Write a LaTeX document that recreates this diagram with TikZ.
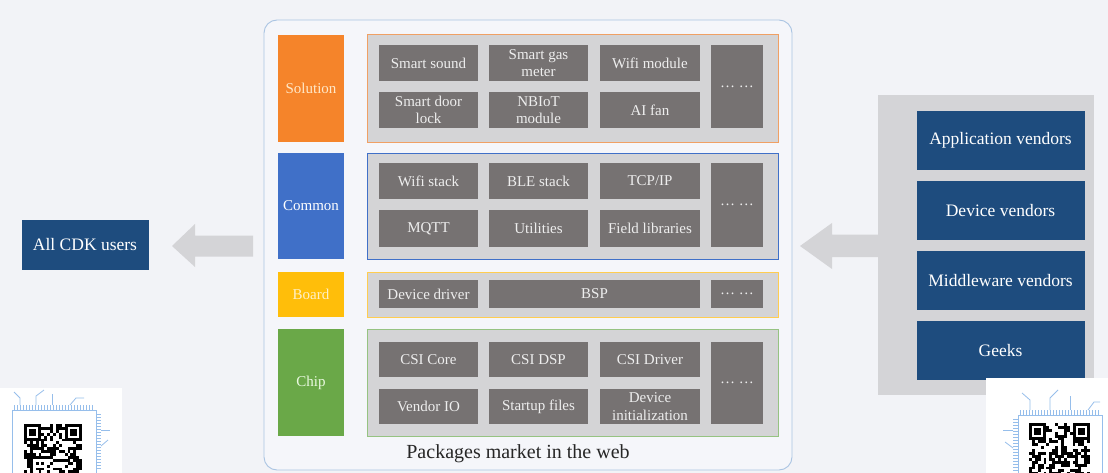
\documentclass[tikz,border=0pt]{standalone}
\usepackage{fontspec}
\setmainfont{Liberation Serif}
\definecolor{bg}{RGB}{242,243,247}
\definecolor{outerfill}{RGB}{245,246,250}
\definecolor{outerline}{RGB}{170,196,226}
\definecolor{orng}{RGB}{245,132,42}
\definecolor{blu}{RGB}{64,112,200}
\definecolor{yel}{RGB}{255,190,10}
\definecolor{grn}{RGB}{106,168,72}
\definecolor{grnline}{RGB}{150,195,130}
\definecolor{contgray}{RGB}{212,212,214}
\definecolor{itemgray}{RGB}{118,114,114}
\definecolor{itemtxt}{RGB}{238,238,238}
\definecolor{navy}{RGB}{30,76,126}
\definecolor{arrgray}{RGB}{212,212,215}
\definecolor{chipblue}{RGB}{150,190,235}
\tikzset{
  lab/.style={minimum width=66pt, inner sep=0pt, font=\fontsize{15}{17}\selectfont},
  content/.style={fill=contgray, line width=0.9pt, minimum width=411pt, inner sep=0pt},
  item/.style={fill=itemgray, text=itemtxt, inner sep=0pt, align=center,
    font=\fontsize{15}{17.5}\selectfont},
  navybox/.style={fill=navy, text=white, inner sep=0pt, minimum width=168pt,
    minimum height=59pt, font=\fontsize{17.5}{20}\selectfont},
  blockarrow/.style={fill=arrgray, draw=none}
}
\newcommand{\qrpatch}[5]{% x0 y0 cols rows seed
  \pgfmathsetseed{#5}
  \foreach \i in {1,...,#3}{
    \foreach \j in {1,...,#4}{
      \pgfmathrandominteger{\r}{0}{1}
      \ifnum\r=1
        \fill[black] ({#1+(\i-1)*2.9},{#2+(\j-1)*2.9}) rectangle ++(2.9,2.9);
      \fi
    }
  }
}
\begin{document}
\begin{tikzpicture}[x=1pt,y=-1pt]
\fill[bg] (0,0) rectangle (1108,473);
\useasboundingbox (0,0) rectangle (1108,473);

% outer box
\node[draw=outerline, fill=outerfill, line width=0.9pt, rounded corners=13pt,
  minimum width=528pt, minimum height=450pt, inner sep=0pt] (outer) at (528,245) {};
\node[font=\fontsize{20}{24}\selectfont, text=black!85] (market) at (518,454) {Packages market in the web};

% left labels
\node[lab, fill=orng, text={rgb,255:red,255;green,232;blue,200}, minimum height=107pt] (sol) at (311,88.5) {Solution};
\node[lab, fill=blu, text=white, minimum height=106pt] (com) at (311,206) {Common};
\node[lab, fill=yel, text={rgb,255:red,255;green,240;blue,200}, minimum height=45pt] (brd) at (311,294.5) {Board};
\node[lab, fill=grn, text={rgb,255:red,235;green,250;blue,225}, minimum height=107pt] (chp) at (311,382.5) {Chip};

% content boxes
\node[content, draw={rgb,255:red,240;green,160;blue,100}, minimum height=108pt] (csol) at (572.5,88) {};
\node[content, draw=blu, minimum height=106pt] (ccom) at (572.5,206) {};
\node[content, draw={rgb,255:red,255;green,205;blue,80}, minimum height=45pt] (cbrd) at (572.5,294.5) {};
\node[content, draw=grnline, minimum height=107pt] (cchp) at (572.5,382.5) {};

% solution items
\node[item, minimum width=99pt, minimum height=36pt] (s1) at (428.5,63) {Smart sound};
\node[item, minimum width=99pt, minimum height=36pt] (s2) at (538.5,63) {Smart gas\\meter};
\node[item, minimum width=100pt, minimum height=36pt] (s3) at (650,63) {Wifi module};
\node[item, minimum width=99pt, minimum height=36pt] (s4) at (428.5,110) {Smart door\\lock};
\node[item, minimum width=99pt, minimum height=36pt] (s5) at (538.5,110) {NBIoT\\module};
\node[item, minimum width=100pt, minimum height=36pt] (s6) at (650,110) {AI fan};
\node[item, minimum width=52pt, minimum height=83pt] (s7) at (737,86.5) {… …};

% common items
\node[item, minimum width=99pt, minimum height=36.5pt] (m1) at (428.5,181) {Wifi stack};
\node[item, minimum width=99pt, minimum height=36.5pt] (m2) at (538.5,181) {BLE stack};
\node[item, minimum width=100pt, minimum height=36.5pt] (m3) at (650,181) {TCP/IP};
\node[item, minimum width=99pt, minimum height=36.5pt] (m4) at (428.5,228.5) {MQTT};
\node[item, minimum width=99pt, minimum height=36.5pt] (m5) at (538.5,228.5) {Utilities};
\node[item, minimum width=100pt, minimum height=36.5pt] (m6) at (650,228.5) {Field libraries};
\node[item, minimum width=52pt, minimum height=84pt] (m7) at (737,205) {… …};

% board items
\node[item, minimum width=99pt, minimum height=28pt] (b1) at (428.5,294) {Device driver};
\node[item, minimum width=211pt, minimum height=28pt] (b2) at (594.5,294) {BSP};
\node[item, minimum width=52pt, minimum height=28pt] (b3) at (737,294) {… …};

% chip items
\node[item, minimum width=99pt, minimum height=35.5pt] (c1) at (428.5,359.5) {CSI Core};
\node[item, minimum width=99pt, minimum height=35.5pt] (c2) at (538.5,359.5) {CSI DSP};
\node[item, minimum width=100pt, minimum height=35.5pt] (c3) at (650,359.5) {CSI Driver};
\node[item, minimum width=99pt, minimum height=35.5pt] (c4) at (428.5,406.5) {Vendor IO};
\node[item, minimum width=99pt, minimum height=35.5pt] (c5) at (538.5,406.5) {Startup files};
\node[item, minimum width=100pt, minimum height=35.5pt] (c6) at (650,406.5) {Device\\initialization};
\node[item, minimum width=52pt, minimum height=82pt] (c7) at (737,383) {… …};

% left side
\node[navybox, minimum width=127pt, minimum height=49pt] (all) at (85,245) {All CDK users};
\fill[blockarrow] (172,246) -- (195,224) -- (195,235.5) -- (253,235.5) -- (253,256.5)
  -- (195,256.5) -- (195,267) -- cycle;

% right side
\node[fill=arrgray, minimum width=216pt, minimum height=300pt, inner sep=0pt] (panel) at (986,245) {};
\node[navybox] (v1) at (1000.5,140.5) {Application vendors};
\node[navybox] (v2) at (1000.5,210.5) {Device vendors};
\node[navybox] (v3) at (1000.5,280.5) {Middleware vendors};
\node[navybox] (v4) at (1000.5,350.5) {Geeks};
\fill[blockarrow] (800,246) -- (832,223) -- (832,234.5) -- (879,234.5) -- (879,257)
  -- (832,257) -- (832,269) -- cycle;

% QR overlays (bottom corners)
\fill[white] (0,388) rectangle (122,473);
\begin{scope}[draw=chipblue, line width=0.8pt]
  \draw (12,410) rectangle (96,480);
  \foreach \xx in {14,17,...,93} \draw[line width=0.5pt] (\xx,405) -- (\xx,410);
  \foreach \yy in {414,417,...,470} \draw[line width=0.5pt] (96,\yy) -- (101,\yy);
  \draw (20,405) -- (20,398) -- (14,392);
  \draw (36,405) -- (36,396) -- (44,390);
  \draw (52,405) -- (52,394);
  \draw (70,405) -- (76,398) -- (84,398);
  \draw (101,430) -- (110,430);
  \draw (101,446) -- (108,440);
\end{scope}
\fill[white] (20,420) rectangle (86,473);
\qrpatch{24}{424}{20}{17}{11}
\foreach \qx/\qy in {24/424, 65/424} {
  \fill[white] (\qx,\qy) rectangle ++(17,17);
  \draw[black, line width=2.5pt] (\qx+1.5,\qy+1.5) rectangle ++(14,14);
  \fill[black] (\qx+5,\qy+5) rectangle ++(7,7);
}

\fill[white] (986,378) rectangle (1108,473);
\begin{scope}[draw=chipblue, line width=0.8pt]
  \draw (1018,415) rectangle (1102,480);
  \foreach \xx in {1020,1023,...,1100} \draw[line width=0.5pt] (\xx,410) -- (\xx,415);
  \foreach \yy in {419,422,...,470} \draw[line width=0.5pt] (1013,\yy) -- (1018,\yy);
  \draw (1030,410) -- (1030,400) -- (1022,393);
  \draw (1050,410) -- (1050,398) -- (1058,390);
  \draw (1070,410) -- (1070,396);
  \draw (1088,410) -- (1094,402) -- (1100,402);
  \draw (1013,430) -- (1003,430);
  \draw (1013,448) -- (1005,442);
\end{scope}
\fill[white] (1026,420) rectangle (1094,473);
\qrpatch{1029}{423}{21}{18}{23}
\foreach \qx/\qy in {1029/423, 1073/423} {
  \fill[white] (\qx,\qy) rectangle ++(17,17);
  \draw[black, line width=2.5pt] (\qx+1.5,\qy+1.5) rectangle ++(14,14);
  \fill[black] (\qx+5,\qy+5) rectangle ++(7,7);
}
\end{tikzpicture}
\end{document}
